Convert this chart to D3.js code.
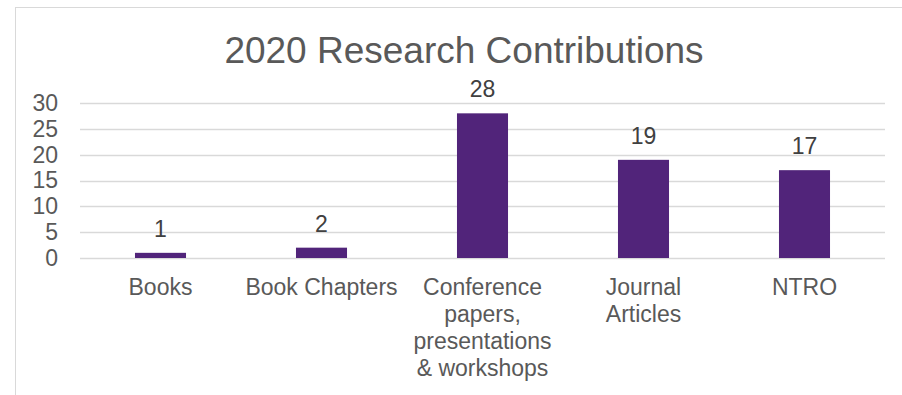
<!DOCTYPE html>
<html>
<head>
<meta charset="utf-8">
<script src="https://cdn.jsdelivr.net/npm/d3@7"></script>
<style>
  body { margin: 0; background: #fff; }
  text { font-family: "Liberation Sans", Arial, sans-serif; }
</style>
</head>
<body>
<script>
// chart data
var categories = ["Books", "Book Chapters", "Conference papers, presentations & workshops", "Journal Articles", "NTRO"];
var labelLines = [["Books"], ["Book Chapters"], ["Conference", "papers,", "presentations", "& workshops"], ["Journal", "Articles"], ["NTRO"]];
var values = [1, 2, 28, 19, 17];
var yTicks = [0, 5, 10, 15, 20, 25, 30];

var width = 902,
    height = 395;

var svg = d3.select("body").append("svg")
    .attr("width", width)
    .attr("height", height);

// outer chart frame (cut off at right and bottom)
svg.append("rect")
    .attr("x", 15.5)
    .attr("y", 7.5)
    .attr("width", 950)
    .attr("height", 450)
    .attr("fill", "#fff")
    .attr("stroke", "#d9d9d9");

// title
svg.append("text")
    .attr("x", 464)
    .attr("y", 63)
    .attr("text-anchor", "middle")
    .attr("font-size", 37)
    .attr("fill", "#595959")
    .text("2020 Research Contributions");

var x = d3.scaleBand()
    .domain(categories)
    .range([80, 885])
    .paddingInner(0.683)
    .paddingOuter(0.3415);

var y = d3.scaleLinear()
    .domain([0, 30])
    .range([258, 103]);

// gridlines
svg.append("g")
  .selectAll("line")
  .data(yTicks)
  .enter().append("line")
    .attr("x1", 80)
    .attr("x2", 885)
    .attr("y1", function(d) { return Math.round(y(d)) + 0.5; })
    .attr("y2", function(d) { return Math.round(y(d)) + 0.5; })
    .attr("stroke", "#d9d9d9")
    .attr("stroke-width", 1.5);

// y axis labels
var yAxis = svg.append("g")
    .attr("transform", "translate(64,0)")
    .call(d3.axisLeft(y).tickValues(yTicks).tickSize(0).tickPadding(6));
yAxis.select(".domain").remove();
yAxis.selectAll("text")
    .attr("font-size", 23)
    .attr("fill", "#595959");

// bars
svg.selectAll(".bar")
  .data(values)
  .enter().append("rect")
    .attr("class", "bar")
    .attr("x", function(d, i) { return x(categories[i]); })
    .attr("width", x.bandwidth())
    .attr("y", function(d) { return y(d); })
    .attr("height", function(d) { return y(0) - y(d); })
    .attr("fill", "#51247a");

// data labels
svg.selectAll(".val")
  .data(values)
  .enter().append("text")
    .attr("class", "val")
    .attr("x", function(d, i) { return x(categories[i]) + x.bandwidth() / 2; })
    .attr("y", function(d) { return y(d) - 16; })
    .attr("text-anchor", "middle")
    .attr("font-size", 23)
    .attr("fill", "#404040")
    .text(function(d) { return d; });

// category labels (wrapped)
var cat = svg.selectAll(".cat")
  .data(categories)
  .enter().append("text")
    .attr("class", "cat")
    .attr("text-anchor", "middle")
    .attr("font-size", 23)
    .attr("fill", "#595959");

cat.each(function(d, i) {
    var t = d3.select(this);
    labelLines[i].forEach(function(line, j) {
        t.append("tspan")
            .attr("x", x(d) + x.bandwidth() / 2)
            .attr("y", 295 + j * 27)
            .text(line);
    });
});
</script>
</body>
</html>
